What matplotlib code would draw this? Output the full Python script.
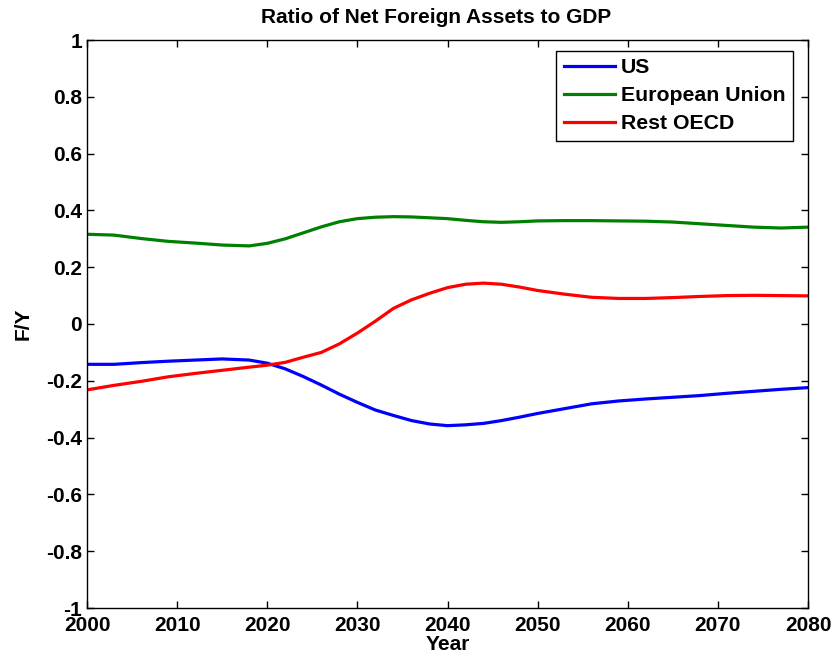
import matplotlib
matplotlib.use("Agg")
import matplotlib.pyplot as plt

years = [2000, 2003, 2006, 2009, 2012, 2015, 2018, 2020, 2022, 2024, 2026, 2028, 2030,
         2032, 2034, 2036, 2038, 2040, 2042, 2044, 2046, 2048, 2050, 2053, 2056, 2059,
         2062, 2065, 2068, 2071, 2074, 2077, 2080]
us = [-0.142, -0.142, -0.136, -0.131, -0.127, -0.123, -0.127, -0.138, -0.158, -0.185,
      -0.215, -0.247, -0.276, -0.303, -0.322, -0.340, -0.352, -0.358, -0.355, -0.350,
      -0.340, -0.328, -0.315, -0.298, -0.281, -0.271, -0.264, -0.258, -0.252, -0.244,
      -0.237, -0.230, -0.224]
eu = [0.316, 0.313, 0.301, 0.291, 0.285, 0.278, 0.275, 0.284, 0.300, 0.321, 0.342,
      0.360, 0.371, 0.376, 0.378, 0.377, 0.374, 0.371, 0.365, 0.360, 0.358, 0.360,
      0.363, 0.364, 0.364, 0.363, 0.362, 0.359, 0.353, 0.347, 0.341, 0.338, 0.341]
rest = [-0.232, -0.216, -0.202, -0.186, -0.174, -0.163, -0.152, -0.145, -0.135, -0.117,
        -0.100, -0.070, -0.032, 0.010, 0.055, 0.085, 0.108, 0.128, 0.140, 0.144, 0.140,
        0.130, 0.118, 0.105, 0.094, 0.090, 0.090, 0.093, 0.097, 0.100, 0.101, 0.100, 0.099]

xticks = list(range(2000, 2081, 10))
yticks = [-1, -0.8, -0.6, -0.4, -0.2, 0, 0.2, 0.4, 0.6, 0.8, 1]
ytick_labels = ["-1", "-0.8", "-0.6", "-0.4", "-0.2", "0", "0.2", "0.4", "0.6", "0.8", "1"]

plt.rcParams['font.family'] = ['Liberation Sans', 'DejaVu Sans']
plt.rcParams['font.weight'] = 'bold'
FS = 15

fig = plt.figure(figsize=(8.34, 6.64), dpi=100)
ax = fig.add_axes([87/834, 1 - 608/664, (808-87)/834, (608-40)/664])

ax.plot(years, us, color='#0000ff', lw=2.3, label='US')
ax.plot(years, eu, color='#008000', lw=2.3, label='European Union')
ax.plot(years, rest, color='#ff0000', lw=2.3, label='Rest OECD')

ax.set_xlim(2000, 2080)
ax.set_ylim(-1, 1)
ax.set_xticks(xticks)
ax.set_yticks(yticks)
ax.set_yticklabels(ytick_labels)
ax.tick_params(direction='in', top=True, right=True, length=5, width=1,
               labelsize=FS)
ax.tick_params(axis='x', pad=6)
ax.tick_params(axis='y', pad=3.5)
for lab in ax.get_xticklabels() + ax.get_yticklabels():
    lab.set_fontweight('bold')
for s in ax.spines.values():
    s.set_linewidth(1.0)

ax.set_title('Ratio of Net Foreign Assets to GDP', fontsize=FS, fontweight='bold',
             pad=12, x=(436 - 87) / 721)
ax.set_xlabel('Year', fontsize=FS, fontweight='bold', labelpad=0)
ax.set_ylabel('F/Y', fontsize=FS, fontweight='bold', labelpad=10)

leg = ax.legend(loc='upper right', fontsize=15.3, frameon=True, fancybox=False,
                edgecolor='black', framealpha=1, handlelength=2.4, borderpad=0.35,
                labelspacing=0.42, handletextpad=0.3, borderaxespad=0,
                bbox_to_anchor=(793/834, 1 - 51/664), bbox_transform=fig.transFigure)
leg.get_frame().set_linewidth(1.0)
for t in leg.get_texts():
    t.set_fontweight('bold')

fig.savefig('out.png', dpi=100)
